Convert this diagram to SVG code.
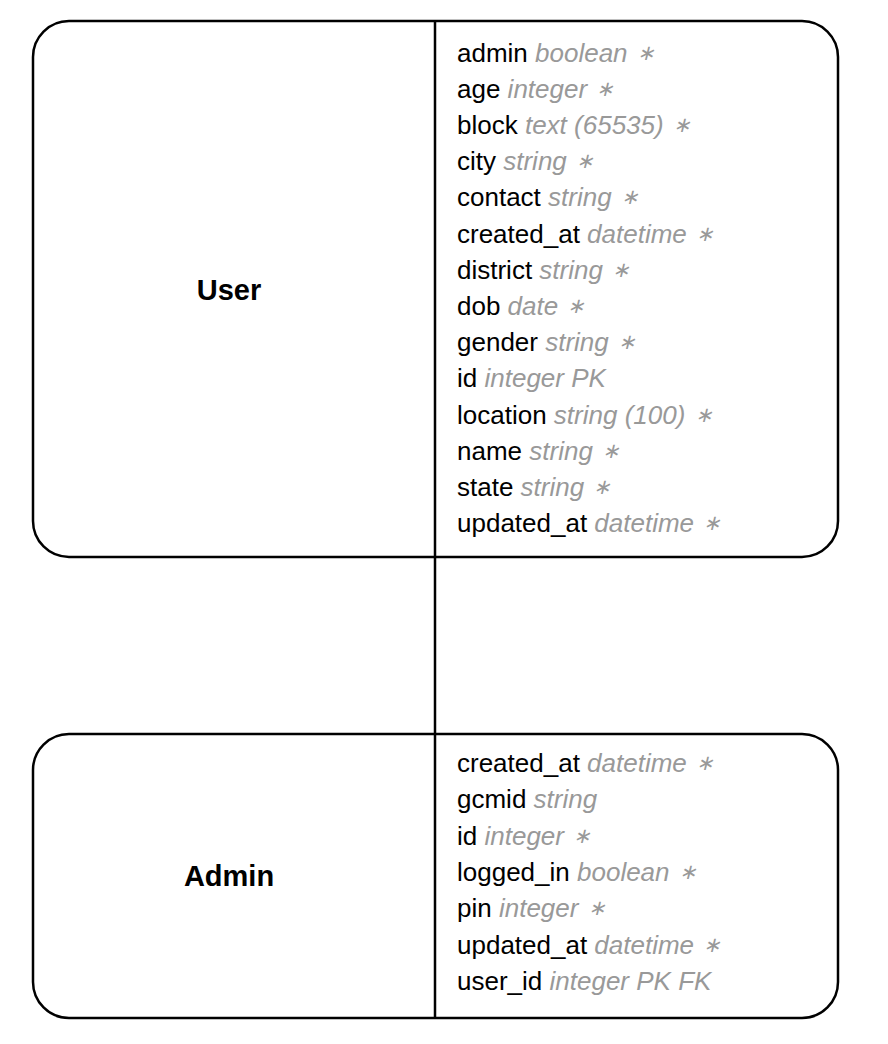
<svg xmlns="http://www.w3.org/2000/svg" width="888" height="1044" viewBox="0 0 888 1044">
<style>
.box{fill:#fff;stroke:#000;stroke-width:2.5}
.div{stroke:#000;stroke-width:2.5}
.title{font-family:"Liberation Sans",Arial,sans-serif;font-size:29px;font-weight:bold;text-anchor:middle;fill:#000}
.f{font-family:"Liberation Sans",Arial,sans-serif;font-size:26px;fill:#000}
.t{fill:#999;font-style:italic}
.s{font-size:21px}
.edge{stroke:#000;stroke-width:2.5;fill:none}
</style>
<rect width="888" height="1044" fill="#fff"/>
<g id="connectors">
<line class="edge" x1="435" y1="557" x2="435" y2="734"/>
</g>
<g id="User">
<rect class="box" x="33" y="21" width="805" height="536" rx="36" ry="36"/>
<line class="div" x1="435" y1="21" x2="435" y2="557"/>
<text class="title" x="229" y="300">User</text>
<text class="f" x="457" y="61.5">admin <tspan class="t">boolean <tspan class="s" dx="2" dy="-2">∗</tspan></tspan></text>
<text class="f" x="457" y="97.7">age <tspan class="t">integer <tspan class="s" dx="2" dy="-2">∗</tspan></tspan></text>
<text class="f" x="457" y="133.9">block <tspan class="t">text (65535) <tspan class="s" dx="2" dy="-2">∗</tspan></tspan></text>
<text class="f" x="457" y="170.1">city <tspan class="t">string <tspan class="s" dx="2" dy="-2">∗</tspan></tspan></text>
<text class="f" x="457" y="206.3">contact <tspan class="t">string <tspan class="s" dx="2" dy="-2">∗</tspan></tspan></text>
<text class="f" x="457" y="242.5">created_at <tspan class="t">datetime <tspan class="s" dx="2" dy="-2">∗</tspan></tspan></text>
<text class="f" x="457" y="278.7">district <tspan class="t">string <tspan class="s" dx="2" dy="-2">∗</tspan></tspan></text>
<text class="f" x="457" y="314.9">dob <tspan class="t">date <tspan class="s" dx="2" dy="-2">∗</tspan></tspan></text>
<text class="f" x="457" y="351.1">gender <tspan class="t">string <tspan class="s" dx="2" dy="-2">∗</tspan></tspan></text>
<text class="f" x="457" y="387.3">id <tspan class="t">integer PK</tspan></text>
<text class="f" x="457" y="423.5">location <tspan class="t">string (100) <tspan class="s" dx="2" dy="-2">∗</tspan></tspan></text>
<text class="f" x="457" y="459.7">name <tspan class="t">string <tspan class="s" dx="2" dy="-2">∗</tspan></tspan></text>
<text class="f" x="457" y="495.9">state <tspan class="t">string <tspan class="s" dx="2" dy="-2">∗</tspan></tspan></text>
<text class="f" x="457" y="532.1">updated_at <tspan class="t">datetime <tspan class="s" dx="2" dy="-2">∗</tspan></tspan></text>
</g>
<g id="Admin">
<rect class="box" x="33" y="734" width="805" height="284" rx="36" ry="36"/>
<line class="div" x1="435" y1="734" x2="435" y2="1018"/>
<text class="title" x="229" y="886">Admin</text>
<text class="f" x="457" y="772">created_at <tspan class="t">datetime <tspan class="s" dx="2" dy="-2">∗</tspan></tspan></text>
<text class="f" x="457" y="808.3">gcmid <tspan class="t">string</tspan></text>
<text class="f" x="457" y="844.7">id <tspan class="t">integer <tspan class="s" dx="2" dy="-2">∗</tspan></tspan></text>
<text class="f" x="457" y="881">logged_in <tspan class="t">boolean <tspan class="s" dx="2" dy="-2">∗</tspan></tspan></text>
<text class="f" x="457" y="917.3">pin <tspan class="t">integer <tspan class="s" dx="2" dy="-2">∗</tspan></tspan></text>
<text class="f" x="457" y="953.7">updated_at <tspan class="t">datetime <tspan class="s" dx="2" dy="-2">∗</tspan></tspan></text>
<text class="f" x="457" y="990">user_id <tspan class="t">integer PK FK</tspan></text>
</g>
</svg>
